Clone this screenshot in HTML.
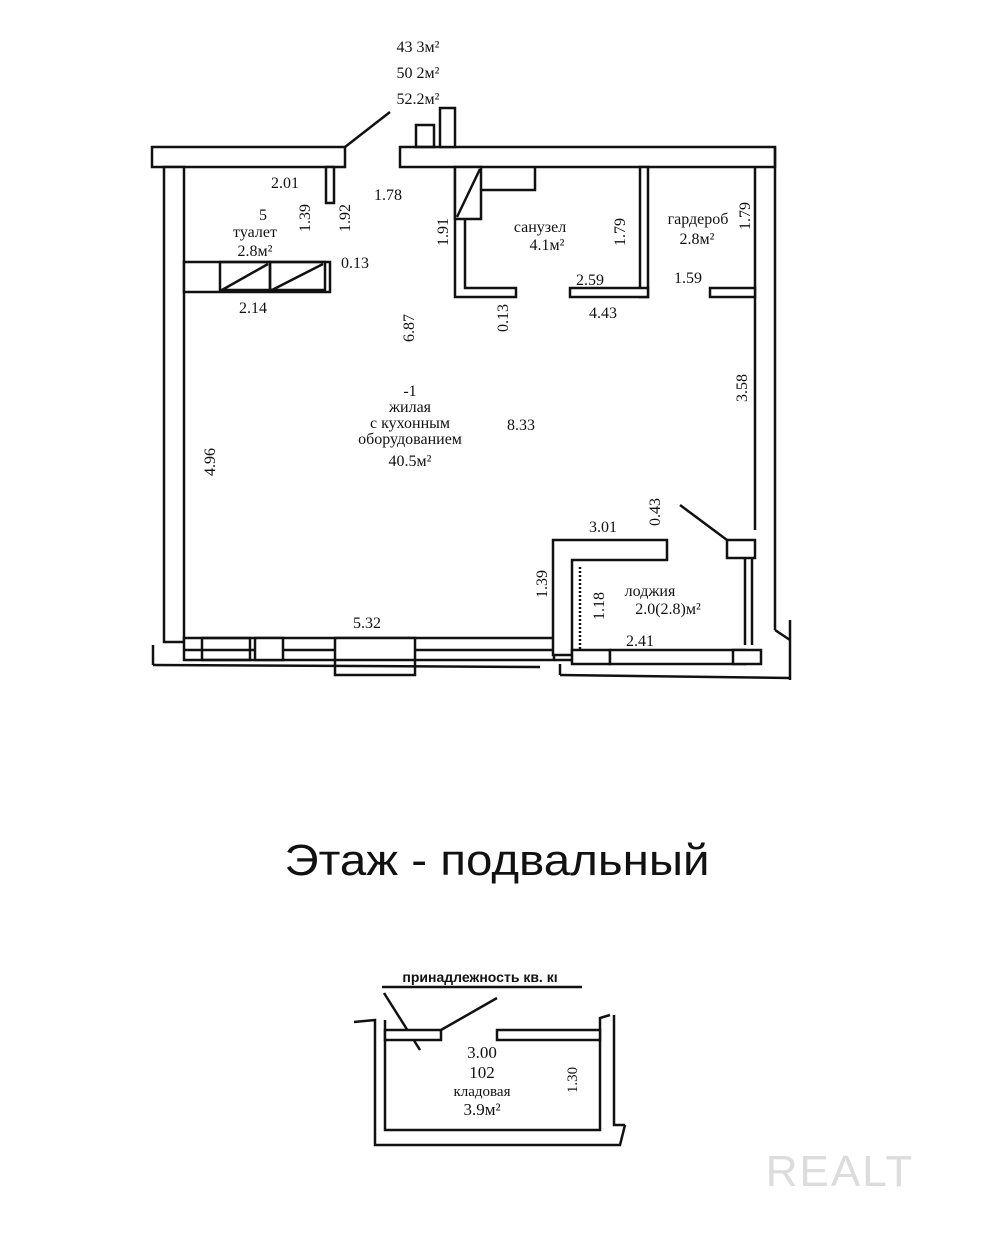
<!DOCTYPE html>
<html><head><meta charset="utf-8"><style>
html,body{margin:0;padding:0;background:#fff;}
svg{display:block}
text{font-family:"Liberation Serif","Noto Serif CJK SC",serif;fill:#111;}
</style></head><body>
<svg width="985" height="1241" viewBox="0 0 985 1241" xmlns="http://www.w3.org/2000/svg">
<g stroke="#111" stroke-width="2.5" fill="#fff">
<rect x="152" y="147" width="193" height="20"/>
<rect x="164" y="167" width="20" height="475"/>
<rect x="400" y="147" width="375" height="20"/>
<rect x="440" y="108" width="15" height="39"/>
<rect x="416" y="125" width="18" height="22" fill="none"/>
<line x1="775" y1="147" x2="775" y2="630"/>
<line x1="755" y1="167" x2="755" y2="530"/>
<line x1="775" y1="630" x2="790" y2="640" fill="none"/>
<line x1="790" y1="620" x2="790" y2="680"/>
<rect x="727" y="540" width="28" height="18"/>
<line x1="745" y1="558" x2="745" y2="645"/>
<line x1="752" y1="558" x2="752" y2="645"/>
<rect x="184" y="638" width="370" height="22"/>
<line x1="184" y1="650" x2="554" y2="650"/>
<rect x="202" y="638" width="48" height="22" fill="none"/>
<rect x="255" y="638" width="28" height="22"/>
<rect x="335" y="638" width="80" height="37"/>
<line x1="335" y1="660" x2="415" y2="660"/>
<line x1="153" y1="665" x2="540" y2="667"/>
<line x1="153" y1="645" x2="153" y2="665"/>
<polygon points="553,655 553,540 667,540 667,560 572,560 572,655"/>
<line x1="580" y1="567" x2="580" y2="650" stroke-dasharray="2 2"/>
<rect x="572" y="650" width="38" height="14"/>
<rect x="610" y="650" width="135" height="14"/>
<rect x="733" y="650" width="28" height="14"/>
<line x1="560" y1="664" x2="560" y2="675"/>
<line x1="560" y1="675" x2="790" y2="678"/>
<line x1="554" y1="660" x2="572" y2="660"/>
<rect x="326" y="167" width="8" height="36"/>
<rect x="184" y="262" width="146" height="30"/>
<rect x="220" y="262" width="50" height="28" fill="none"/>
<rect x="270" y="262" width="55" height="28" fill="none"/>
<line x1="222" y1="290" x2="268" y2="264"/>
<line x1="272" y1="290" x2="323" y2="264"/>
<polyline points="455,167 455,297 516,297 516,288 465,288 465,167" fill="#fff"/>
<rect x="455" y="167" width="26" height="52"/>
<line x1="457" y1="217" x2="480" y2="169"/>
<polyline points="481,190 535,190 535,167" fill="none"/>
<rect x="640" y="167" width="8" height="130"/>
<rect x="570" y="288" width="78" height="9"/>
<rect x="710" y="288" width="45" height="9"/>
<line x1="345" y1="147" x2="390" y2="112"/>
<line x1="680" y1="505" x2="727" y2="540"/>
</g>
<g font-size="16" text-anchor="middle">
<text x="418" y="52">43 3м²</text>
<text x="418" y="78">50 2м²</text>
<text x="418" y="104">52.2м²</text>
<text x="285" y="188">2.01</text>
<text x="388" y="200">1.78</text>
<text x="263" y="220">5</text>
<text x="255" y="237">туалет</text>
<text x="255" y="256">2.8м²</text>
<text x="355" y="268">0.13</text>
<text x="253" y="313">2.14</text>
<text x="540" y="232">санузел</text>
<text x="547" y="250">4.1м²</text>
<text x="698" y="224">гардероб</text>
<text x="697" y="244">2.8м²</text>
<text x="590" y="285">2.59</text>
<text x="688" y="283">1.59</text>
<text x="603" y="318">4.43</text>
<text x="410" y="396">-1</text>
<text x="410" y="412">жилая</text>
<text x="410" y="428">с кухонным</text>
<text x="410" y="444">оборудованием</text>
<text x="410" y="466">40.5м²</text>
<text x="521" y="430">8.33</text>
<text x="603" y="532">3.01</text>
<text x="367" y="628">5.32</text>
<text x="650" y="596">лоджия</text>
<text x="668" y="614">2.0(2.8)м²</text>
<text x="640" y="646">2.41</text>
</g>
<g font-size="16" text-anchor="middle">
<text transform="translate(310,218) rotate(-90)">1.39</text>
<text transform="translate(350,218) rotate(-90)">1.92</text>
<text transform="translate(448,232) rotate(-90)">1.91</text>
<text transform="translate(625,232) rotate(-90)">1.79</text>
<text transform="translate(750,216) rotate(-90)">1.79</text>
<text transform="translate(414,328) rotate(-90)">6.87</text>
<text transform="translate(508,318) rotate(-90)">0.13</text>
<text transform="translate(747,388) rotate(-90)">3.58</text>
<text transform="translate(215,462) rotate(-90)">4.96</text>
<text transform="translate(660,512) rotate(-90)">0.43</text>
<text transform="translate(547,584) rotate(-90)">1.39</text>
<text transform="translate(604,606) rotate(-90)">1.18</text>
</g>
<text x="497" y="875" font-size="44" text-anchor="middle" textLength="425" lengthAdjust="spacingAndGlyphs" style="font-family:'Liberation Sans',sans-serif">Этаж - подвальный</text>
<g stroke="#111" stroke-width="2.5" fill="none">
<line x1="382" y1="987" x2="582" y2="987"/>
<line x1="384" y1="993" x2="420" y2="1050"/>
<polyline points="354,1022 375,1020 375,1145 620,1145 625,1125"/>
<polyline points="385,1020 385,1130 600,1130 600,1018 610,1015"/>
<polyline points="614,1015 614,1125 625,1125"/>
<rect x="385" y="1030" width="56" height="10" fill="#fff"/>
<rect x="497" y="1030" width="103" height="10" fill="#fff"/>
<line x1="441" y1="1030" x2="497" y2="998"/>
</g>
<g font-size="15" text-anchor="middle">
<text x="480" y="982" font-size="14" style="font-family:'Liberation Sans',sans-serif;font-weight:bold">принадлежность кв. кı</text>
<text x="482" y="1058" font-size="17">3.00</text>
<text x="482" y="1078" font-size="17">102</text>
<text x="482" y="1096">кладовая</text>
<text x="482" y="1115" font-size="17">3.9м²</text>
<text transform="translate(577,1080) rotate(-90)">1.30</text>
</g>
<text x="840" y="1186" font-size="44" text-anchor="middle" style="font-family:'Liberation Sans',sans-serif;fill:#dcdcdc;letter-spacing:2px">REALT</text>
</svg>
</body></html>
